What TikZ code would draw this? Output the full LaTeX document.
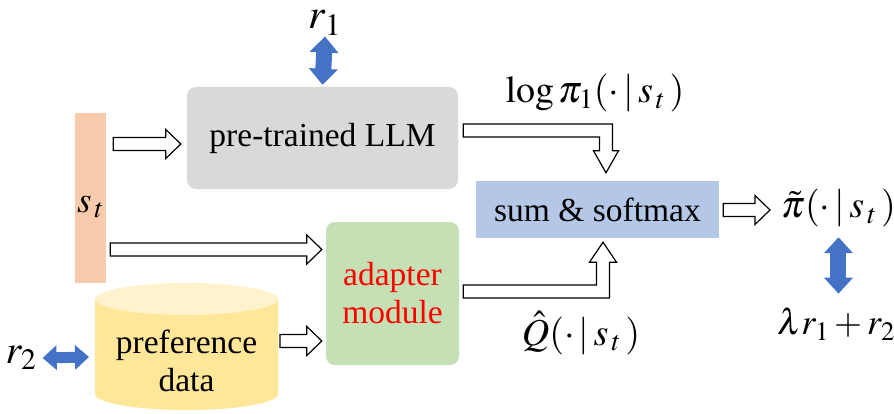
\documentclass[tikz,border=0pt]{standalone}
\usepackage{mathptmx}
\usepackage{fontspec}
\setmainfont{Liberation Serif}
\usetikzlibrary{arrows.meta, positioning, calc, backgrounds}
\definecolor{llmgray}{HTML}{D9D9D9}
\definecolor{stateorange}{HTML}{F8CBAD}
\definecolor{adaptgreen}{HTML}{C5E0B4}
\definecolor{sumblue}{HTML}{B4C7E7}
\definecolor{datayellow}{HTML}{FFE699}
\definecolor{datatop}{HTML}{FFF2CC}
\definecolor{linkblue}{HTML}{4472C4}

% hollow block arrows, drawn as outlines between two points
\newcommand{\hollowright}[2]{%
  \draw[hollow] let \p1=#1, \p2=#2 in
    (\x1,\y2+6.5pt) -- (\x2-15pt,\y2+6.5pt) -- (\x2-15pt,\y2+14.5pt) -- (\x2,\y2)
    -- (\x2-15pt,\y2-14.5pt) -- (\x2-15pt,\y2-6.5pt) -- (\x1,\y2-6.5pt) -- cycle;}
\newcommand{\hollowdown}[2]{%
  \draw[hollow] let \p1=#1, \p2=#2 in
    (\x1,\y1+6.5pt) -- (\x2+6.5pt,\y1+6.5pt) -- (\x2+6.5pt,\y2+22pt) -- (\x2+12.5pt,\y2+22pt)
    -- (\x2,\y2) -- (\x2-12.5pt,\y2+22pt) -- (\x2-6.5pt,\y2+22pt) -- (\x2-6.5pt,\y1-6.5pt)
    -- (\x1,\y1-6.5pt) -- cycle;}
\newcommand{\hollowup}[2]{%
  \draw[hollow] let \p1=#1, \p2=#2 in
    (\x1,\y1-6.5pt) -- (\x2+6.5pt,\y1-6.5pt) -- (\x2+6.5pt,\y2-20pt) -- (\x2+13.5pt,\y2-20pt)
    -- (\x2,\y2) -- (\x2-13.5pt,\y2-20pt) -- (\x2-6.5pt,\y2-20pt) -- (\x2-6.5pt,\y1+6.5pt)
    -- (\x1,\y1+6.5pt) -- cycle;}

\begin{document}
\begin{tikzpicture}[
    x=1pt, y=1pt,
    every node/.style={font=\fontsize{33.5}{38}\selectfont, inner sep=0pt},
    box/.style={rectangle, align=center},
    mathlabel/.style={font=\fontsize{38}{42}\selectfont},
    hollow/.style={draw=black, fill=white, line width=1.2pt, line join=miter},
    link/.style={linkblue, line width=16pt, {Triangle[width=28pt,length=16pt]}-{Triangle[width=28pt,length=16pt]}},
    smalllink/.style={linkblue, line width=11pt, {Triangle[width=24pt,length=14pt]}-{Triangle[width=24pt,length=14pt]}}
]
\useasboundingbox (0,0) rectangle (894,413);

\node[box, fill=stateorange, minimum width=31pt, minimum height=170pt, font=\fontsize{37}{40}\selectfont] (st) at (90.5,215) {\raisebox{-14pt}[0pt][0pt]{$s_{\,t}$}};
\node[box, fill=llmgray, rounded corners=9pt, minimum width=271pt, minimum height=102pt] (llm) at (322.5,275) {pre-trained LLM};
\node[box, fill=adaptgreen, rounded corners=9pt, minimum width=133pt, minimum height=143pt, text=red] (adapter) at (392.5,119.5) {adapter\\module};
\node[box, fill=sumblue, minimum width=243pt, minimum height=57pt] (sum) at (597.5,203.5) {sum \& softmax};
\node[box] (data) at (186.5,52) {preference\\data};
\coordinate (dataleft) at (95,56);

% database cylinder behind its text
\begin{scope}[on background layer]
  \fill[datayellow] ($(data.center)+(-91.5,62)$) -- ($(data.center)+(-91.5,-33)$)
    arc[start angle=180, end angle=360, x radius=91.5, y radius=16]
    -- ($(data.center)+(91.5,62)$) -- cycle;
  \fill[datatop] ($(data.center)+(0,62)$) ellipse[x radius=91.5, y radius=16];
\end{scope}

\node[font=\fontsize{42}{46}\selectfont] (r1) at (325,390) {$r_1$};
\node[font=\fontsize{40}{44}\selectfont] (r2) at (21,55) {$r_2$};
\node[mathlabel] (logpi) at (595,320) {$\log\pi_1(\cdot\,|\,s_{\,t}\,)$};
\node[mathlabel] (qhat) at (581,80) {$\hat{Q}(\cdot\,|\,s_{\,t}\,)$};
\node[mathlabel, anchor=west] (pitilde) at (781,205) {$\tilde{\pi}(\cdot\,|\,s_{\,t}\,)$};
\node[font=\fontsize{36}{40}\selectfont] (lam) at (836,89) {$\lambda r_1+r_2$};

\hollowright{([xshift=7pt]st.east)}{([xshift=-6pt,yshift=-6pt]llm.west)}
\hollowright{([xshift=4pt]st.east)}{([xshift=-4pt,yshift=44pt]adapter.west)}
\hollowright{($(data.center)+(93.5,0)$)}{([xshift=-4pt,yshift=-47.5pt]adapter.west)}
\hollowdown{([xshift=5pt,yshift=7.5pt]llm.east)}{([xshift=8.5pt,yshift=8pt]sum.north)}
\hollowup{([xshift=4pt,yshift=2pt]adapter.east)}{([xshift=5.5pt,yshift=-4pt]sum.south)}
\hollowright{([xshift=4pt]sum.east)}{([xshift=-11pt,yshift=-2pt]pitilde.west)}

\draw[link] ([yshift=-1pt]r1.south) -- ([yshift=2pt]llm.north);
\draw[link, shorten <=10pt, shorten >=14pt] (pitilde.south) -- (pitilde.south |- lam.north);
\draw[smalllink] ([xshift=6pt]r2.east) -- ([xshift=-6pt]dataleft);

\end{tikzpicture}
\end{document}
